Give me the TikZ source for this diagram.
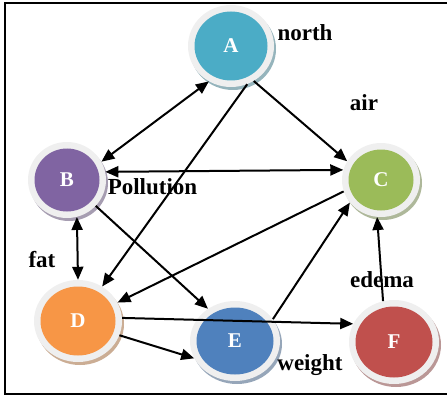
\documentclass[tikz,border=0pt]{standalone}
\usepackage{fontspec}
\setmainfont{Liberation Serif}
\usetikzlibrary{shapes.geometric,shadows,calc,arrows.meta}
\definecolor{ringgray}{HTML}{EFEFEF}
\definecolor{cA}{HTML}{4BACC6}
\definecolor{cB}{HTML}{8064A2}
\definecolor{cC}{HTML}{9BBB59}
\definecolor{cD}{HTML}{F79646}
\definecolor{cE}{HTML}{4F81BD}
\definecolor{cF}{HTML}{C0504D}
\begin{document}
\begin{tikzpicture}[x=1pt,y=1pt,
  bubble/.style={ellipse, fill=ringgray, inner sep=0pt, text=white,
    font=\bfseries\fontsize{21}{24}\selectfont,
    drop shadow={shadow xshift=2pt, shadow yshift=-3pt, opacity=1, fill=#1!45!gray!70!white},
    path picture={\fill[#1] let \p1=(path picture bounding box.north east),
      \p2=(path picture bounding box.center) in
      (\p2) ellipse ({\x1-\x2-6.5pt} and {\y1-\y2-6.5pt});}},
  tag/.style={font=\bfseries\fontsize{23}{27}\selectfont, inner sep=0pt},
  link/.style={line width=2pt, -{Triangle[length=13pt,width=11pt]}},
  both/.style={line width=2pt, {Triangle[length=13pt,width=11pt]}-{Triangle[length=13pt,width=11pt]}}
]
\useasboundingbox (0,0) rectangle (447,397);
% outer frame, its right side lies past the page edge
\draw[line width=1.8pt] (5,3) rectangle (455,394);

% the six factors
\node[bubble=cA, minimum width=86pt, minimum height=82pt] (A) at (231,351) {A};
\node[bubble=cB, minimum width=78pt, minimum height=76pt] (B) at (67,217) {B};
\node[bubble=cC, minimum width=78pt, minimum height=74pt] (C) at (381,217) {C};
\node[bubble=cD, minimum width=88pt, minimum height=82pt] (D) at (78,76) {D};
\node[bubble=cE, minimum width=90pt, minimum height=80pt] (E) at (235,56) {E};
\node[bubble=cF, minimum width=90pt, minimum height=84pt] (F) at (394,55) {F};

% captions
\node[tag] (north) at (305,364) {north};
\node[tag] (air) at (364,294) {air};
\node[tag] (pollution) at (152.5,210) {Pollution};
\node[tag] (fat) at (42,137) {fat};
\node[tag] (edema) at (382,117) {edema};
\node[tag] (weight) at (310,32) {weight};

% influences
\draw[both] (A.238) -- (B.28);
\draw[link] (A.-57) -- (C.151);
\draw[link] (A.-67) -- (D.55);
\draw[both] (B.12) -- (C.165);
\draw[both] (B.-75) -- (D.90);
\draw[link] (B.-42) -- (E.130);
\draw[link] (C.197) -- (D.25);
\draw[link] (E.30) -- (C.216);
\draw[link] (D.4) -- (F.156);
\draw[link] (D.-19) -- (E.203);
\draw[link] (F.105) -- (C.264);
\end{tikzpicture}
\end{document}
